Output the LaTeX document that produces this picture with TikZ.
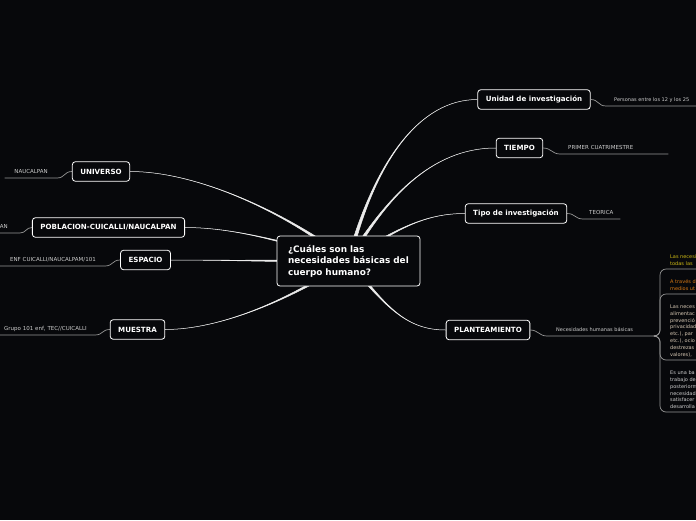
\documentclass[tikz,border=0pt]{standalone}
\usepackage{fontspec}
\setmainfont{DejaVu Sans}
\usetikzlibrary{calc,backgrounds}
\definecolor{bgcol}{RGB}{7,8,11}
\definecolor{linkcol}{RGB}{235,235,235}
\definecolor{subcol}{RGB}{150,150,150}
\definecolor{leafcol}{RGB}{205,205,205}
\definecolor{yellowcol}{RGB}{205,185,20}
\definecolor{orangecol}{RGB}{215,120,20}
\definecolor{beigecol}{RGB}{215,200,180}
\begin{document}
\begin{tikzpicture}[x=1pt, y=-1pt,
    topic/.style={draw=white, line width=0.8pt, rounded corners=3pt, fill=bgcol, text=white,
      font=\fontsize{7.1}{8.5}\selectfont\bfseries, minimum height=19.5pt, inner xsep=8pt},
    leaf/.style={text=leafcol, font=\fontsize{5.5}{6.8}\selectfont, inner xsep=8pt, inner ysep=3pt,
      text height=4pt, text depth=1pt},
    note/.style={font=\fontsize{5}{6.8}\selectfont, align=left, inner xsep=2pt, inner ysep=3pt, anchor=south west},
    sub/.style={draw=subcol, line width=0.7pt},
    link/.style={fill=linkcol, draw=linkcol, line width=0.5pt}]
    \useasboundingbox (0,0) rectangle (696,520);
    \clip (0,0) rectangle (696,520);

    % central question
    \node[topic, font=\fontsize{8.9}{11.5}\selectfont\bfseries, text width=121pt, align=left,
      inner xsep=11pt, minimum height=50pt] (root) at (348.5,261)
      {¿Cuáles son las\\necesidades básicas del\\cuerpo humano?};

    % right branches
    \node[topic] (unidad) at (534,99.5) {Unidad de investigación};
    \node[topic] (tiempo) at (519.5,148) {TIEMPO};
    \node[topic] (tipo) at (516,213.5) {Tipo de investigación};
    \node[topic] (plant) at (488,330) {PLANTEAMIENTO};

    % left branches
    \node[topic] (universo) at (101,171.5) {UNIVERSO};
    \node[topic] (poblacion) at (108.5,227.5) {POBLACION-CUICALLI/NAUCALPAN};
    \node[topic] (espacio) at (145.5,260) {ESPACIO};
    \node[topic] (muestra) at (137.5,329.5) {MUESTRA};

    % leaves
    \node[leaf, anchor=south west, font=\fontsize{5}{6.8}\selectfont] (personas) at (606,106) {Personas entre los 12 y los 25};
    \node[leaf, anchor=south west, text width=92pt, align=left] (primer) at (560,154) {PRIMER CUATRIMESTRE};
    \node[leaf, anchor=south west, inner xsep=6pt, text width=25pt, align=left] (teorica) at (583,219) {TEORICA};
    \node[leaf, anchor=south west, font=\fontsize{5}{6.8}\selectfont, inner xsep=9pt, text width=91pt, align=left] (nec) at (547,336) {Necesidades humanas básicas};
    \node[leaf, anchor=south east, inner xsep=9pt, text width=34pt, align=right] (naucalpan) at (57,178) {NAUCALPAN};
    \node[leaf, anchor=south east, inner xsep=12pt, text width=8pt, align=right] (nauc) at (20,233) {AN};
    \node[leaf, anchor=south east, inner xsep=9pt, text width=90pt, align=right] (enf) at (105,266) {ENF CUICALLI/NAUCALPAM/101};
    \node[leaf, anchor=south east, inner xsep=8pt, text width=87pt, align=right] (grupo) at (95,335) {Grupo 101 enf, TEC//CUICALLI};

    % notes under PLANTEAMIENTO
    \node[note, text=yellowcol] (nota1) at (668,269) {Las necesi\\todas las};
    \node[note, text=orangecol] (nota2) at (668,294) {A través d\\medios ut};
    \node[note, text=beigecol] (nota3) at (668,360) {Las neces\\alimentac\\prevenció\\privacidad\\etc.), par\\etc.), ocio\\destrezas\\valores),};
    \node[note, text=leafcol] (nota4) at (668,412) {Es una ba\\trabajo de\\posteriorm\\necesidad\\satisfacer\\desarrolla};

    % leaf connectors
    \draw[sub] (unidad.east) .. controls +(8,0) and +(-8,0) .. (personas.south west) -- ++(95,0);
    \draw[sub] (tiempo.east) .. controls +(8,0) and +(-8,0) .. (primer.south west) -- (primer.south east);
    \draw[sub] (tipo.east) .. controls +(8,0) and +(-8,0) .. (teorica.south west) -- (teorica.south east);
    \draw[sub] (plant.east) .. controls +(8,0) and +(-8,0) .. (nec.south west) -- (nec.south east);
    \draw[sub] (universo.west) .. controls +(-8,0) and +(8,0) .. (naucalpan.south east) -- (naucalpan.south west);
    \draw[sub] (poblacion.west) .. controls +(-6,0) and +(6,0) .. (nauc.south east) -- ++(-25,0);
    \draw[sub] (espacio.west) .. controls +(-8,0) and +(8,0) .. (enf.south east) -- (enf.south west);
    \draw[sub] (muestra.west) .. controls +(-8,0) and +(8,0) .. (grupo.south east) -- ++(-100,0);
    \foreach \n in {nota1,nota2,nota3,nota4}
      \draw[sub, rounded corners=6pt] (nec.south east) -| ([xshift=-8pt]\n.south west) -- ++(40,0);

    \begin{scope}[on background layer]
      \fill[bgcol] (0,0) rectangle (696,520);
      % tapered links from the centre
      \foreach \tgt/\ca/\cb in {unidad.west/{375,160}/{420,99.5}, tiempo.west/{385,200}/{430,148},
          tipo.west/{400,225}/{430,213.5}, plant.west/{385,305}/{405,330},
          universo.east/{290,215}/{200,171.5}, poblacion.east/{280,240}/{230,227.5},
          espacio.east/{260,261}/{200,260}, muestra.east/{290,300}/{220,329.5}}
        \filldraw[link] ($(root.center)!2pt!90:(\ca)$) .. controls (\ca) and (\cb) .. (\tgt)
          .. controls (\cb) and (\ca) .. ($(root.center)!2pt!-90:(\ca)$) -- cycle;
    \end{scope}
\end{tikzpicture}
\end{document}
